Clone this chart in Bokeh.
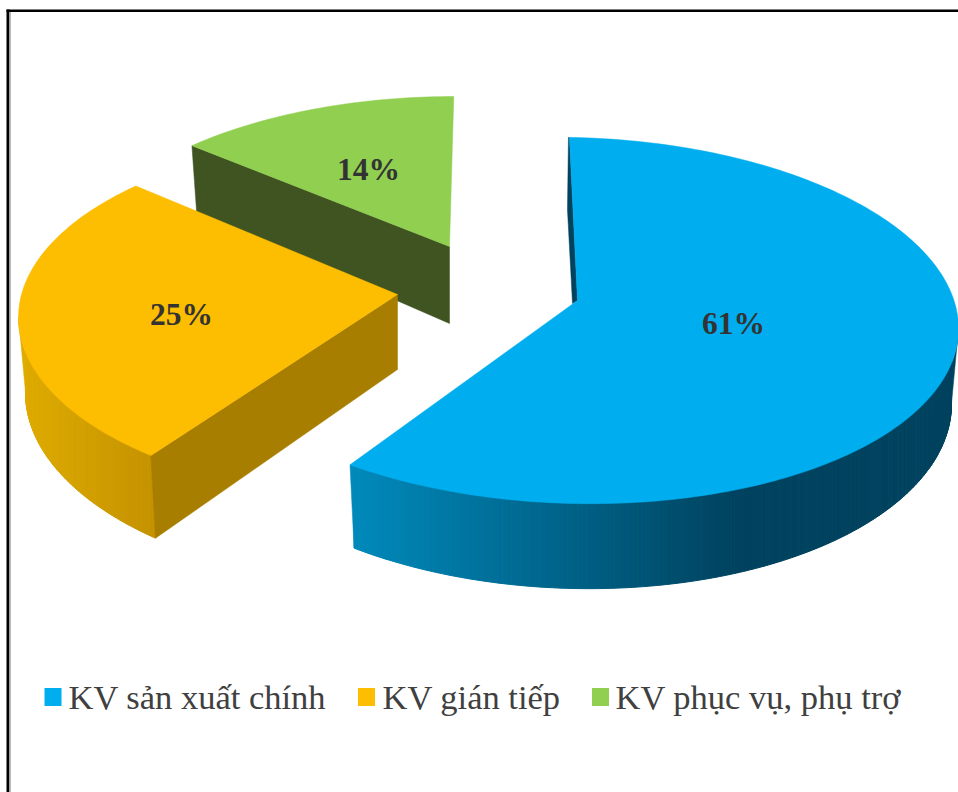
import math
from bokeh.plotting import figure
from bokeh.models import Range1d
from bokeh.core.properties import value
from bokeh.embed import file_html
from bokeh.resources import INLINE

# ---- data ----
categories = ["KV sản xuất chính", "KV gián tiếp", "KV phục vụ, phụ trợ"]
shares = [61, 25, 14]

# ---- styling / projection of each exploded slice ----
top_colors = ["#00AEEF", "#FDBD00", "#90CF50"]
cut_colors = ["#00435F", "#A87E00", "#3F5421"]
wall_from = [(0x00, 0x8A, 0xBC), (0xDE, 0xAB, 0x00), None]
wall_to = [(0x00, 0x43, 0x5F), (0xC4, 0x92, 0x00), None]
wall_x_span = [(350, 735), (25, 155), None]
wall_angles = [(90, None), (None, 270), None]
filler_angles = [((90, 110), None), (None, (250, 270)), None]
centres = [(573, 320), (403, 317), (454, 279)]
apexes = [(577, 300), (397, 294), (449, 246)]
shears = [0.021, 0.0, 0.0]
starts = [-0.6, 221, 317]
span_scale = [0.984, 1.055, 0.851]
label_pos = [(733, 323), (181, 314), (368, 169)]
RX, RY = 385, 183        # top ellipse radii
RXB, RYB, DROP = 378, 193, 75   # bottom ellipse radii and drop
APEX_DROP = 75

legend_sq_x = [52.5, 366, 600]
legend_tx_x = [68, 382, 615]
LEG_Y = 696.5

W, H = 958, 792
p = figure(width=W, height=H, output_backend="svg", toolbar_location=None,
           x_range=Range1d(0, W), y_range=Range1d(H, 0),
           min_border=0, outline_line_color=None, background_fill_color="white")
p.axis.visible = False
p.grid.visible = False


def top_pt(i, a):
    c, r = centres[i], math.radians(a)
    dx = RX * math.sin(r)
    return c[0] + dx, c[1] - RY * math.cos(r) + shears[i] * dx


def low_pt(i, a):
    c, r = centres[i], math.radians(a)
    dx = RXB * math.sin(r)
    return c[0] + dx, c[1] + DROP - RYB * math.cos(r) + shears[i] * dx


def top_y_at(i, x):
    c = centres[i]
    dx = x - c[0]
    return c[1] + RY * math.sqrt(max(0.0, 1 - (dx / RX) ** 2)) + shears[i] * dx


def mix(c1, c2, t):
    t = max(0.0, min(1.0, t))
    return "#%02x%02x%02x" % tuple(round(a + (b - a) * t) for a, b in zip(c1, c2))


def hull(i, a, b, color):
    n = 24
    angs = [a + (b - a) * k / n for k in range(n + 1)]
    ts = [top_pt(i, q) for q in angs]
    ls = [low_pt(i, q) for q in reversed(angs)]
    p.patch([q[0] for q in ts + ls], [q[1] for q in ts + ls],
            fill_color=color, line_color=color, line_width=0.5)


def draw_slice(i):
    ap = apexes[i]
    a0 = starts[i]
    a1 = a0 + shares[i] / 100 * 360 * span_scale[i]
    if i == 0:       # blue: a thin sliver of the inner cut
        t = top_pt(i, a0)
        p.patch([t[0] - 1, t[0], ap[0], ap[0] - 5, t[0] - 2],
                [t[1], t[1], ap[1], ap[1] + 3, t[1] + 72],
                fill_color=cut_colors[i], line_color=cut_colors[i], line_width=0.5)
    # curved wall with a horizontal shading, built from upright strips
    if wall_from[i] is not None:
        lo = wall_angles[i][0] if wall_angles[i][0] is not None else a0
        hi = wall_angles[i][1] if wall_angles[i][1] is not None else a1
        if i == 0:
            hull(i, a1 - 6, a1, mix(wall_from[i], wall_to[i], 0.0))
            hull(i, *filler_angles[i][0], mix(wall_from[i], wall_to[i], 1.0))
        else:
            hull(i, *filler_angles[i][1], mix(wall_from[i], wall_to[i], 0.0))
        n = int(hi - lo) * 2
        xs, ys, cols = [], [], []
        for k in range(n):
            b0 = lo + (hi - lo) * k / n
            b1 = lo + (hi - lo) * (k + 1) / n
            l0, l1 = low_pt(i, b0), low_pt(i, b1)
            xs.append([l0[0], l1[0], l1[0], l0[0]])
            ys.append([top_y_at(i, l0[0]) - 3, top_y_at(i, l1[0]) - 3, l1[1], l0[1]])
            xm = (l0[0] + l1[0]) / 2
            x0, x1 = wall_x_span[i]
            cols.append(mix(wall_from[i], wall_to[i], (xm - x0) / (x1 - x0)))
        p.patches(xs, ys, fill_color=cols, line_color=cols, line_width=1)
    # straight cut walls
    if i in (1, 2):
        extra = 2 if i == 2 else 0
        t, l = top_pt(i, a0), low_pt(i, a0)
        p.patch([ap[0], t[0], l[0], ap[0]], [ap[1], t[1], l[1], ap[1] + APEX_DROP + extra],
                fill_color=cut_colors[i], line_color=cut_colors[i], line_width=0.5)
    # top face
    m = max(8, int(a1 - a0))
    arc = [top_pt(i, a0 + (a1 - a0) * k / m) for k in range(m + 1)]
    p.patch([ap[0]] + [q[0] for q in arc], [ap[1]] + [q[1] for q in arc],
            fill_color=top_colors[i], line_color=top_colors[i], line_width=0.5)


for i in [2, 1, 0]:
    draw_slice(i)

# data labels
p.text([q[0] for q in label_pos], [q[1] for q in label_pos],
       text=[f"{s}%" for s in shares],
       text_font=value("Liberation Serif"), text_font_style="bold",
       text_font_size="31.5px", text_color="#333333",
       text_align="center", text_baseline="middle")

# legend
p.rect(legend_sq_x, [LEG_Y] * 3, width=17, height=18, fill_color=top_colors[:3], line_color=None)
p.text(legend_tx_x, [LEG_Y] * 3, text=categories,
       text_font=value("Liberation Serif"), text_font_size="34.5px",
       text_color="#404040", text_align="left", text_baseline="middle")

# frame
p.quad(left=[6, 6], right=[9, W], top=[9, 9], bottom=[H, 11.6], fill_color="black", line_color=None)
p.quad(left=[9], right=[10.5], top=[11.6], bottom=[H], fill_color="#bbbbbb", line_color=None)

open("out.html", "w").write(file_html(p, INLINE))
